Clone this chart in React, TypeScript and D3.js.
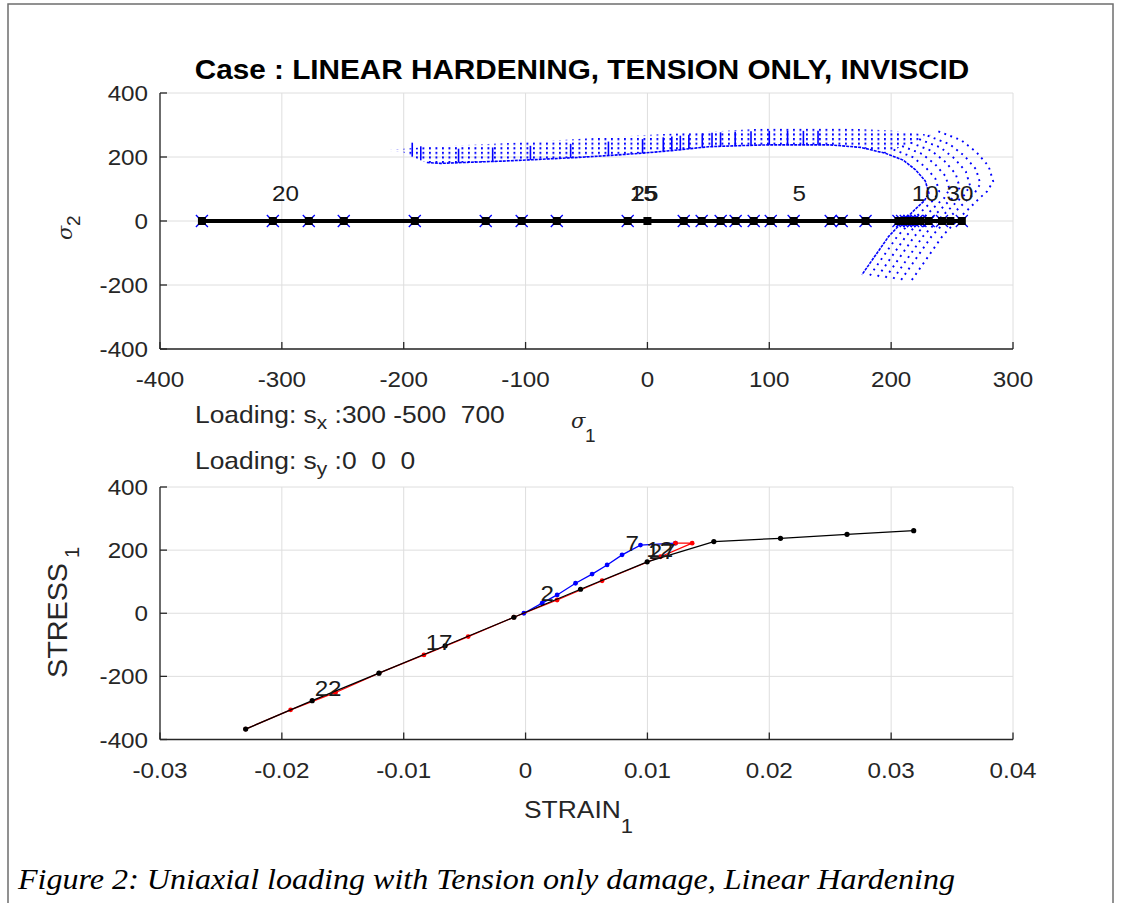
import React from 'react';
import * as d3 from 'd3';

// ---------- DATA ----------
// top panel: sigma_1 / sigma_2 plane
const TOP_X_TICKS = [-400, -300, -200, -100, 0, 100, 200, 300];
const TOP_Y_TICKS = [-400, -200, 0, 200, 400];
const PATH_S1 = [-365.6, -307.4, -277.9, -249.2, -190.9, -132.7, -103.2, -74.4, -16.2, 0, 29.8, 44.5, 60.1, 72.4, 87.2, 101.2, 120, 150.4, 159.4, 179, 206, 209, 212, 215, 218, 221, 224, 230.8, 241.7, 248.6, 258];
const MARK_S1 = [-365.6, -307.4, -277.9, -249.2, -190.9, -132.7, -103.2, -74.4, -16.2, 29.8, 44.5, 60.1, 72.4, 87.2, 101.2, 120, 150.4, 159.4, 179, 206, 209, 212, 215, 218, 221, 224, 230.8, 241.7, 258];
const TOP_LABEL_TEXT = ['20', '15', '25', '5', '10', '30'];
const TOP_LABEL_S1 = [-308, -14.5, -13, 119, 217, 245.5];
const TOP_LABEL_S2 = [86, 86, 86, 86, 86, 86];

// yield-surface band (upper branch family)
const BAND_UPPER_S1 = [-212, -179, -140, -97, -50, -1, 50, 100, 160, 200, 233];
const BAND_UPPER_S2 = [222, 232, 239, 247, 258, 269, 279, 290, 290, 283, 269];
const BAND_LOWER_S1 = [-212, -200, -190, -181, -170, -150, -120, -97, -60, -30, -1, 20, 50, 80, 100, 130, 150];
const BAND_LOWER_S2 = [219, 215, 195, 183, 180, 183, 187, 191, 198, 205, 213, 220, 232, 236, 238, 238, 238];
const BAND_TICKS_S1 = [-193, -186, -155, -127, -96, -63, -32, -4, 13, 20, 27, 34, 45, 53, 60, 72, 85, 100, 115, 128, 140];
// inner yield surface nose
const NOSE_S1 = [150, 175, 195, 210, 220, 228, 231, 227, 222, 210, 198, 187, 176];
const NOSE_S2 = [238, 230, 212, 190, 160, 125, 87, 62, 45, 0, -48, -108, -168];
// expanded surfaces: scale about pivot
const NOSE_SCALE = [1.04, 1.08, 1.12, 1.16, 1.2, 1.25];
const NOSE_PIVOT = [20, -60];

// bottom panel: stress-strain
const BOT_X_TICKS = [-0.03, -0.02, -0.01, 0, 0.01, 0.02, 0.03, 0.04];
const BOT_X_LABELS = ['-0.03', '-0.02', '-0.01', '0', '0.01', '0.02', '0.03', '0.04'];
const BOT_Y_TICKS = [-400, -200, 0, 200, 400];
const BLUE_STRAIN = [-0.00014, 0.00136, 0.00259, 0.0041, 0.00546, 0.00669, 0.00792, 0.00943, 0.0123];
const BLUE_STRESS = [0, 32, 58, 95, 124, 153, 185, 216, 222];
const RED_STRAIN = [0.0123, 0.01367, 0.01107, 0.00628, 0.00259, -0.00096, -0.00471, -0.00834, -0.01203, -0.01559, -0.01928, -0.02297];
const RED_STRESS = [222, 222, 179, 103, 42, -12.7, -74, -132, -190, -251, -306, -367];
const BLACK_STRAIN = [-0.02297, -0.01751, -0.01203, -0.0066, -0.00096, 0.00451, 0.00998, 0.01545, 0.02092, 0.02638, 0.03185];
const BLACK_STRESS = [-367, -277, -190, -103, -12.7, 76, 163, 227, 237.5, 250, 261.6];
const BOT_LABEL_TEXT = ['2', '7', '12', '27', '17', '22'];
const BOT_LABEL_STRAIN = [0.00123, 0.0082, 0.0099, 0.0101, -0.0082, -0.01731];
const BOT_LABEL_STRESS = [64, 222, 205, 196, -90, -237];

// ---------- LAYOUT ----------
const W = 1122, H = 903;
const L = 160, R = 1013;
const T1 = 93, B1 = 349;
const T2 = 487, B2 = 739.5;
const SX = 1.1;
const SANS = "'Liberation Sans', Arial, sans-serif";
const SERIF = "'Liberation Serif', 'Times New Roman', serif";
const AX = '#262626';
const GRID = '#dedede';
const BLUE = '#0000ff';

const xTop = d3.scaleLinear().domain([-400, 300]).range([L, R]);
const yTop = d3.scaleLinear().domain([-400, 400]).range([B1, T1]);
const xBot = d3.scaleLinear().domain([-0.03, 0.04]).range([L, R]);
const yBot = d3.scaleLinear().domain([-400, 400]).range([B2, T2]);

function HText(props: any) {
  const { x, y, size, anchor = 'start', weight = 'normal', fill = AX, family = SANS, children } = props;
  return (
    <g transform={`translate(${x},${y}) scale(${SX},1)`}>
      <text x={0} y={0} fontSize={size} textAnchor={anchor} fontWeight={weight} fill={fill} fontFamily={family}
        style={{ whiteSpace: 'pre' }}>
        {children}
      </text>
    </g>
  );
}

function Axes(props: any) {
  const { x, y, xTicks, xLabels, yTicks, top, bottom } = props;
  return (
    <g>
      {xTicks.map((t: number, i: number) => (
        <line key={'gx' + i} x1={x(t)} x2={x(t)} y1={top} y2={bottom} stroke={GRID} strokeWidth={1} />
      ))}
      {yTicks.map((t: number, i: number) => (
        <line key={'gy' + i} x1={L} x2={R} y1={y(t)} y2={y(t)} stroke={GRID} strokeWidth={1} />
      ))}
      <line x1={L} x2={L} y1={top} y2={bottom} stroke={AX} strokeWidth={1.3} />
      <line x1={L} x2={R} y1={bottom} y2={bottom} stroke={AX} strokeWidth={1.3} />
      {xTicks.map((t: number, i: number) => (
        <g key={'tx' + i}>
          <line x1={x(t)} x2={x(t)} y1={bottom} y2={bottom - 7} stroke={AX} strokeWidth={1.3} />
          <HText x={x(t)} y={bottom + 38} size={22} anchor="middle">{xLabels ? xLabels[i] : String(t)}</HText>
        </g>
      ))}
      {yTicks.map((t: number, i: number) => (
        <g key={'ty' + i}>
          <line x1={L} x2={L + 7} y1={y(t)} y2={y(t)} stroke={AX} strokeWidth={1.3} />
          <HText x={148} y={y(t) + 8} size={22} anchor="end">{String(t)}</HText>
        </g>
      ))}
    </g>
  );
}

function interp(xs: number[], ys: number[], v: number) {
  for (let i = 0; i < xs.length - 1; i++) {
    if (v >= xs[i] && v <= xs[i + 1]) {
      const t = (v - xs[i]) / (xs[i + 1] - xs[i]);
      return ys[i] + t * (ys[i + 1] - ys[i]);
    }
  }
  return ys[ys.length - 1];
}

export default function App() {
  const lineTop = d3.line<[number, number]>().x(d => xTop(d[0])).y(d => yTop(d[1]));
  const lineBot = d3.line<[number, number]>().x(d => xBot(d[0])).y(d => yBot(d[1]));

  const zip = (a: number[], b: number[]) => a.map((v, i) => [v, b[i]] as [number, number]);

  const bandUpper = zip(BAND_UPPER_S1, BAND_UPPER_S2);
  const bandLower = zip(BAND_LOWER_S1, BAND_LOWER_S2);
  const nose = zip(NOSE_S1, NOSE_S2);
  const innerCurve = bandLower.slice(3).concat(nose.slice(1));
  const bandPoly = bandUpper.concat(nose.slice(0, 3).reverse()).concat(bandLower.slice().reverse());
  const noseOuterBase = nose.slice(2);

  const blue = zip(BLUE_STRAIN, BLUE_STRESS);
  const red = zip(RED_STRAIN, RED_STRESS);
  const black = zip(BLACK_STRAIN, BLACK_STRESS);

  return (
    <svg width={W} height={H} style={{ position: 'absolute', left: 0, top: 0, background: '#fff', display: 'block' }}>
      <defs>
        <pattern id="bandDots" width={6.5} height={4.6} patternUnits="userSpaceOnUse">
          <rect x={0} y={0} width={1.8} height={2.2} fill={BLUE} />
        </pattern>
        <clipPath id="clipTop"><rect x={L} y={T1} width={R - L} height={B1 - T1} /></clipPath>
      </defs>
      <rect x={0} y={0} width={W} height={H} fill="#fff" />
      <rect x={8} y={4} width={1105} height={920} fill="none" stroke="#6e6e6e" strokeWidth={1.5} />

      {/* Title */}
      <HText x={582} y={79} size={27} anchor="middle" weight="bold" fill="#000">Case : LINEAR HARDENING, TENSION ONLY, INVISCID</HText>

      {/* ---------- TOP PANEL ---------- */}
      <Axes x={xTop} y={yTop} xTicks={TOP_X_TICKS} yTicks={TOP_Y_TICKS} top={T1} bottom={B1} />
      <g clipPath="url(#clipTop)">
        <path d={lineTop(bandPoly) + 'Z'} fill="url(#bandDots)" stroke="none" />
        {BAND_TICKS_S1.map((s, i) => {
          const yv = interp(BAND_LOWER_S1, BAND_LOWER_S2, s);
          return <line key={'bt' + i} x1={xTop(s)} x2={xTop(s)} y1={yTop(yv)} y2={yTop(yv) - 14} stroke={BLUE} strokeWidth={1.6} />;
        })}
        <path d={lineTop(innerCurve) || ''} fill="none" stroke={BLUE} strokeWidth={1.6} strokeDasharray="3 1" />
        {NOSE_SCALE.map((s, i) => {
          const pts = noseOuterBase.map(p => [NOSE_PIVOT[0] + s * (p[0] - NOSE_PIVOT[0]), NOSE_PIVOT[1] + s * (p[1] - NOSE_PIVOT[1])] as [number, number]);
          return <path key={'ns' + i} d={lineTop(pts) || ''} fill="none" stroke={BLUE} strokeWidth={1.9} strokeDasharray="1.9 4.5" />;
        })}
      </g>
      {/* thick loading path */}
      <line x1={xTop(PATH_S1[0])} x2={xTop(PATH_S1[PATH_S1.length - 1])} y1={yTop(0)} y2={yTop(0)} stroke="#000" strokeWidth={4} />
      {MARK_S1.map((s, i) => {
        const cx = xTop(s), cy = yTop(0);
        return (
          <g key={'mk' + i} stroke={BLUE} strokeWidth={1.3}>
            <line x1={cx - 6} x2={cx + 6} y1={cy - 6} y2={cy + 6} />
            <line x1={cx - 6} x2={cx + 6} y1={cy + 6} y2={cy - 6} />
          </g>
        );
      })}
      {PATH_S1.map((s, i) => (
        <rect key={'pd' + i} x={xTop(s) - 4} y={yTop(0) - 4} width={8} height={8} fill="#000" />
      ))}
      {TOP_LABEL_TEXT.map((t, i) => (
        <HText key={'tl' + i} x={xTop(TOP_LABEL_S1[i])} y={yTop(TOP_LABEL_S2[i]) + 8} size={22} fill="#1a1a1a">{t}</HText>
      ))}

      {/* sigma axis labels */}
      <text x={571} y={428} fontSize={21} fontStyle="italic" fontFamily="'DejaVu Serif', serif" fill={AX}>σ</text>
      <text x={585} y={442} fontSize={19} fontFamily={SANS} fill={AX}>1</text>
      <g transform="translate(72,240) rotate(-90)">
        <text x={0} y={0} fontSize={21} fontStyle="italic" fontFamily="'DejaVu Serif', serif" fill={AX}>σ</text>
        <text x={14} y={8} fontSize={19} fontFamily={SANS} fill={AX}>2</text>
      </g>

      {/* Loading notes */}
      <HText x={195} y={423} size={24}>Loading: s<tspan dy={6} fontSize={19}>x</tspan><tspan dy={-6}> :300 -500  700</tspan></HText>
      <HText x={195} y={469} size={24}>Loading: s<tspan dy={6} fontSize={19}>y</tspan><tspan dy={-6}> :0  0  0</tspan></HText>

      {/* ---------- BOTTOM PANEL ---------- */}
      <Axes x={xBot} y={yBot} xTicks={BOT_X_TICKS} xLabels={BOT_X_LABELS} yTicks={BOT_Y_TICKS} top={T2} bottom={B2} />
      <path d={lineBot(blue) || ''} fill="none" stroke={BLUE} strokeWidth={1.3} />
      {blue.map((p, i) => <circle key={'bd' + i} cx={xBot(p[0])} cy={yBot(p[1])} r={2.4} fill={BLUE} />)}
      <path d={lineBot(red) || ''} fill="none" stroke="#ff0000" strokeWidth={1.3} />
      {red.map((p, i) => <circle key={'rd' + i} cx={xBot(p[0])} cy={yBot(p[1])} r={2.4} fill="#ff0000" />)}
      <path d={lineBot(black) || ''} fill="none" stroke="#000" strokeWidth={1.3} />
      {black.map((p, i) => <circle key={'kd' + i} cx={xBot(p[0])} cy={yBot(p[1])} r={2.6} fill="#000" />)}
      {BOT_LABEL_TEXT.map((t, i) => (
        <HText key={'bl' + i} x={xBot(BOT_LABEL_STRAIN[i])} y={yBot(BOT_LABEL_STRESS[i]) + 8} size={22} fill="#1a1a1a">{t}</HText>
      ))}

      {/* axis labels */}
      <HText x={524} y={818} size={24}>STRAIN<tspan dy={15} fontSize={20}>1</tspan></HText>
      <g transform="translate(67,678) rotate(-90)">
        <text x={0} y={0} fontSize={28} fontFamily={SANS} fill={AX} textLength={115} lengthAdjust="spacingAndGlyphs">STRESS</text>
        <text x={120} y={12} fontSize={20} fontFamily={SANS} fill={AX}>1</text>
      </g>

      {/* caption */}
      <text x={18} y={889} fontSize={30} fontStyle="italic" fontFamily={SERIF} fill="#000"
        textLength={937} lengthAdjust="spacingAndGlyphs">Figure 2: Uniaxial loading with Tension only damage, Linear Hardening</text>
    </svg>
  );
}
